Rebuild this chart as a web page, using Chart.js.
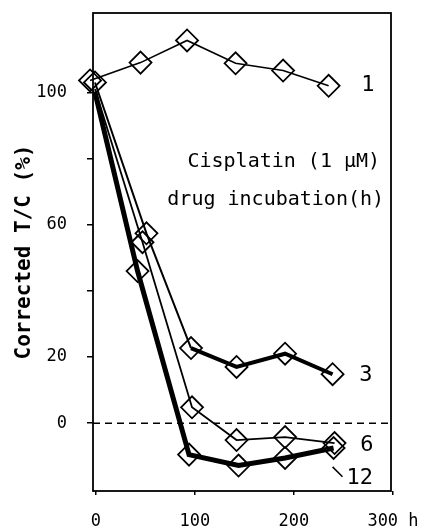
<!DOCTYPE html>
<html>
<head>
<meta charset="utf-8">
<script src="https://cdn.jsdelivr.net/npm/chart.js@4"></script>
<style>
html,body{margin:0;padding:0;background:#fff;}
#wrap{width:425px;height:529px;}
</style>
</head>
<body>
<div id="wrap"><canvas id="c" width="425" height="529"></canvas></div>
<script>
// Data (hours vs corrected T/C %)
const hours1  = [-6, 45, 92, 141, 189, 235];
const tc1     = [103.6, 109, 115.7, 108.8, 106.6, 102];
const hours3  = [-1, 51, 96, 142, 191, 239];
const tc3     = [103, 57.4, 22.7, 17, 21, 14.8];
const hours6  = [-1, 47, 97, 142, 191, 241];
const tc6     = [101, 54.7, 4.8, -5.1, -4.2, -6];
const hours12 = [-1, 42, 94, 144, 191, 240];
const tc12    = [100, 46, -9.5, -12.8, -10.5, -7.5];
const xTicks  = [0, 100, 200, 300];
const yTicks  = [0, 20, 40, 60, 80, 100];
const yLabelled = [0, 20, 60, 100];
const zeroLine = [-3, 298];

const pts = (xs, ys) => xs.map((x, i) => ({x: x, y: ys[i]}));

const MONO = '"DejaVu Sans Mono", "Liberation Mono", monospace';

const diamond = {
  pointStyle: 'rectRot',
  pointRadius: 11,
  pointHoverRadius: 11,
  pointBorderWidth: 1.8,
  pointBackgroundColor: 'rgba(0,0,0,0)',
  pointBorderColor: '#000',
  borderColor: '#000',
  tension: 0,
  fill: false,
  clip: false
};
const noFirstMarker = c => (c.dataIndex === 0 ? 0 : 11);

const bgPlugin = {
  id: 'bg',
  beforeDraw(chart) {
    const ctx = chart.ctx;
    ctx.save();
    ctx.fillStyle = '#fff';
    ctx.fillRect(0, 0, chart.width, chart.height);
    ctx.restore();
  }
};

const boxAndText = {
  id: 'boxText',
  afterDraw(chart) {
    const ctx = chart.ctx;
    const a = chart.chartArea;
    const xs = chart.scales.x, ys = chart.scales.y;
    ctx.save();
    ctx.strokeStyle = '#000';
    ctx.lineWidth = 1.8;
    ctx.strokeRect(a.left, a.top, a.right - a.left, a.bottom - a.top);
    ctx.fillStyle = '#000';
    ctx.textBaseline = 'middle';
    ctx.font = '22px ' + MONO;
    ctx.textAlign = 'left';
    ctx.fillText('1', xs.getPixelForValue(268), ys.getPixelForValue(102));
    ctx.fillText('3', xs.getPixelForValue(266), ys.getPixelForValue(14.5));
    ctx.fillText('6', xs.getPixelForValue(267), ys.getPixelForValue(-6.6));
    ctx.fillText('12', xs.getPixelForValue(253), ys.getPixelForValue(-16.8));
    ctx.lineWidth = 1.5;
    ctx.beginPath();
    ctx.moveTo(xs.getPixelForValue(239), ys.getPixelForValue(-13.2));
    ctx.lineTo(xs.getPixelForValue(249), ys.getPixelForValue(-16.2));
    ctx.stroke();
    ctx.font = '20px ' + MONO;
    ctx.textAlign = 'right';
    ctx.fillText('Cisplatin (1 μM)', xs.getPixelForValue(287), ys.getPixelForValue(79));
    ctx.fillText('drug incubation(h)', xs.getPixelForValue(291), ys.getPixelForValue(67.4));
    ctx.restore();
  }
};

new Chart(document.getElementById('c'), {
  type: 'scatter',
  data: {
    datasets: [
      {
        label: 'zero',
        data: pts(zeroLine, [0, 0]),
        showLine: true,
        borderColor: '#000',
        borderWidth: 1.5,
        borderDash: [7, 5],
        pointRadius: 0,
        pointHoverRadius: 0
      },
      Object.assign({}, diamond, {
        label: '12',
        data: pts(hours12, tc12),
        showLine: true,
        borderWidth: 5,
        pointRadius: noFirstMarker
      }),
      Object.assign({}, diamond, {
        label: '6',
        data: pts(hours6, tc6),
        showLine: true,
        borderWidth: 1.8,
        pointRadius: noFirstMarker
      }),
      Object.assign({}, diamond, {
        label: '3',
        data: pts(hours3, tc3),
        showLine: true,
        borderWidth: 2,
        segment: { borderWidth: c => (c.p0DataIndex >= 2 ? 4 : 2) }
      }),
      Object.assign({}, diamond, {
        label: '1',
        data: pts(hours1, tc1),
        showLine: true,
        borderWidth: 1.6
      })
    ]
  },
  options: {
    responsive: false,
    animation: false,
    devicePixelRatio: 1,
    layout: { padding: { top: 13, right: 34, left: 0, bottom: 0 } },
    plugins: {
      legend: { display: false },
      tooltip: { enabled: false }
    },
    scales: {
      x: {
        type: 'linear',
        min: -3,
        max: 298,
        afterBuildTicks: s => { s.ticks = xTicks.map(v => ({value: v})); },
        afterFit: s => { s.height = 38; s.paddingLeft = 0; s.paddingRight = 0; },
        border: { display: false },
        grid: { drawOnChartArea: false, tickLength: 4, color: '#000', lineWidth: 1.5 },
        ticks: {
          color: '#000',
          font: { family: MONO, size: 17 },
          padding: 16,
          maxRotation: 0,
          autoSkip: false,
          callback: v => (v === 300 ? '300 h' : String(v))
        }
      },
      y: {
        type: 'linear',
        min: -20.5,
        max: 124,
        afterBuildTicks: s => { s.ticks = yTicks.map(v => ({value: v})); },
        afterFit: s => { s.width = 93; s.paddingTop = 0; s.paddingBottom = 0; },
        border: { display: false },
        grid: { drawOnChartArea: false, tickLength: 6, color: '#000', lineWidth: 1.5 },
        ticks: {
          color: '#000',
          font: { family: MONO, size: 17 },
          padding: 20,
          autoSkip: false,
          callback: v => (yLabelled.includes(v) ? String(v) : '')
        },
        title: {
          display: true,
          text: 'Corrected T/C (%)',
          color: '#000',
          font: { family: MONO, size: 21, weight: 'bold' },
          padding: { top: 12, bottom: 0 }
        }
      }
    }
  },
  plugins: [bgPlugin, boxAndText]
});
</script>
</body>
</html>
